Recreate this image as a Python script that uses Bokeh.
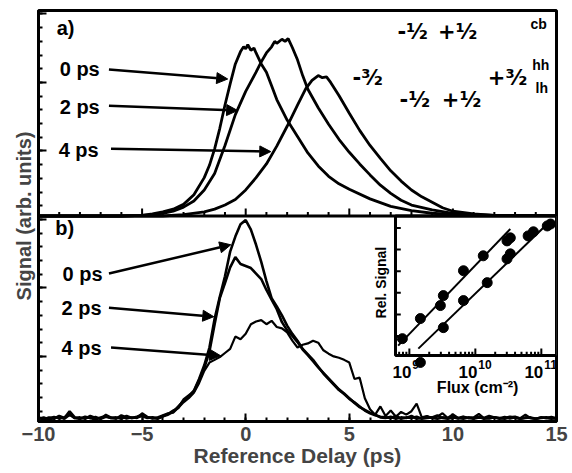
import math
from bokeh.plotting import figure
from bokeh.models import (ColumnDataSource, Range1d, LinearScale, FixedTicker,
                          SingleIntervalTicker, Span, Arrow, NormalHead,
                          CustomJSTickFormatter)
from bokeh.core.properties import value
from bokeh.embed import file_html
from bokeh.resources import INLINE

FONT = "Liberation Sans"

# ---------------- (a) cross-correlation traces (panel units 0..3) ----------------
a0_delay = [-10, -6, -5, -4.5, -4, -3.5, -3, -2.5, -2, -1.75,
            -1.5, -1.25, -1, -0.75, -0.5, -0.25, -0.1, 0, 0.1, 0.25,
            0.4, 0.5, 0.75, 1, 1.25, 1.5, 1.75, 2, 2.5, 3,
            3.5, 4, 4.5, 5, 6, 7, 8, 9, 10, 12, 15]
a0_sig = [0, 0, 0.01, 0.03, 0.06, 0.10, 0.17, 0.31, 0.56, 0.74,
          0.98, 1.28, 1.62, 1.93, 2.22, 2.40, 2.47, 2.44, 2.50, 2.42,
          2.45, 2.38, 2.22, 2.10, 1.90, 1.70, 1.55, 1.40, 1.16, 0.92,
          0.73, 0.58, 0.47, 0.39, 0.25, 0.14, 0.08, 0.04, 0.02, 0.01, 0]

a2_delay = [-10, -6, -5, -4.5, -4, -3.5, -3, -2.5, -2, -1.5,
            -1, -0.5, 0, 0.5, 0.75, 1, 1.25, 1.4, 1.5, 1.75,
            1.9, 2.05, 2.25, 2.5, 2.75, 3, 3.5, 4, 4.5, 5,
            5.5, 6, 6.5, 7, 7.5, 8, 9, 10, 11, 12, 15]
a2_sig = [0, 0, 0.01, 0.02, 0.04, 0.07, 0.13, 0.22, 0.38, 0.62,
          1.03, 1.48, 1.82, 2.10, 2.25, 2.38, 2.47, 2.55, 2.52, 2.58,
          2.55, 2.59, 2.46, 2.28, 2.05, 1.85, 1.58, 1.34, 1.12, 0.93,
          0.76, 0.60, 0.45, 0.33, 0.23, 0.16, 0.09, 0.04, 0.02, 0.01, 0]

a4_delay = [-10, -4, -3, -2, -1.5, -1, -0.5, 0, 0.5, 1,
            1.5, 2, 2.5, 2.9, 3.2, 3.5, 3.7, 3.9, 4.1, 4.5,
            5, 5.5, 6, 6.5, 7, 7.5, 8, 8.5, 9, 9.5,
            10, 11, 12, 15]
a4_sig = [0, 0, 0.02, 0.06, 0.10, 0.16, 0.24, 0.38, 0.56, 0.76,
          1.02, 1.31, 1.62, 1.86, 1.98, 2.05, 2.02, 2.03, 1.95, 1.76,
          1.50, 1.25, 1.03, 0.84, 0.66, 0.51, 0.38, 0.28, 0.20, 0.12,
          0.07, 0.03, 0.01, 0]

# ---------------- (b) traces, sampled every 0.25 ps from -10 to 15 ----------------
b0_sig = ([0.05, 0.03, 0.06, 0.04, 0.08, 0.05, 0.15, 0.06, 0.04, 0.07, 0.05,
           0.03, 0.06, 0.08, 0.05, 0.04, 0.09, 0.06, 0.05, 0.07, 0.10, 0.06]
          + [0.05, 0.04, 0.08, 0.10, 0.14, 0.22, 0.30, 0.36, 0.45, 0.62,
             0.82, 1.08, 1.50, 1.82, 2.12, 2.48, 2.70, 2.88, 2.94, 2.80,
             2.58, 2.33, 2.05, 1.80, 1.68, 1.55, 1.40, 1.28, 1.18, 1.06,
             0.98, 0.90, 0.80, 0.70, 0.62, 0.54, 0.46, 0.40, 0.33, 0.28,
             0.22, 0.16, 0.12, 0.09, 0.07]
          + [0.06, 0.05, 0.08, 0.04, 0.06, 0.05, 0.07, 0.04, 0.05, 0.06,
             0.09, 0.05, 0.04, 0.06, 0.05, 0.07, 0.05, 0.04, 0.06, 0.05,
             0.08, 0.06, 0.04, 0.05, 0.07, 0.05, 0.04, 0.06, 0.05, 0.04,
             0.06, 0.05, 0.04, 0.05])
b2_sig = ([0.04, 0.06, 0.03, 0.05, 0.07, 0.04, 0.10, 0.05, 0.06, 0.04, 0.08,
           0.05, 0.04, 0.07, 0.05, 0.06, 0.04, 0.08, 0.05, 0.06, 0.08, 0.05]
          + [0.06, 0.05, 0.07, 0.11, 0.16, 0.20, 0.32, 0.38, 0.44, 0.60,
             0.78, 1.02, 1.42, 1.80, 2.02, 2.25, 2.40, 2.30, 2.27, 2.24,
             2.16, 2.08, 1.92, 1.78, 1.64, 1.45, 1.33, 1.25, 1.16, 1.05,
             0.97, 0.88, 0.79, 0.71, 0.63, 0.55, 0.47, 0.41, 0.34, 0.27,
             0.21, 0.17, 0.13, 0.10, 0.06]
          + [0.05, 0.07, 0.04, 0.06, 0.05, 0.08, 0.04, 0.05, 0.07, 0.05,
             0.04, 0.06, 0.05, 0.10, 0.05, 0.04, 0.06, 0.05, 0.07, 0.04,
             0.05, 0.06, 0.05, 0.04, 0.06, 0.07, 0.04, 0.05, 0.06, 0.04,
             0.05, 0.06, 0.05, 0.04])
b4_sig = ([0.06, 0.04, 0.05, 0.07, 0.04, 0.06, 0.12, 0.05, 0.04, 0.06, 0.05,
           0.07, 0.04, 0.10, 0.06, 0.05, 0.07, 0.04, 0.06, 0.05, 0.12, 0.07]
          + [0.04, 0.06, 0.09, 0.12, 0.13, 0.20, 0.28, 0.34, 0.42, 0.56,
             0.74, 0.86, 0.90, 0.94, 1.00, 1.06, 1.24, 1.20, 1.28, 1.42,
             1.46, 1.48, 1.42, 1.47, 1.38, 1.36, 1.30, 1.18, 1.08, 1.12,
             1.14, 1.18, 1.15, 1.04, 0.99, 0.95, 0.93, 0.90, 0.86, 0.62,
             0.64, 0.34, 0.18, 0.10, 0.22]
          + [0.08, 0.16, 0.07, 0.14, 0.10, 0.15, 0.26, 0.06, 0.08, 0.05,
             0.07, 0.12, 0.05, 0.06, 0.04, 0.07, 0.05, 0.06, 0.11, 0.05,
             0.04, 0.06, 0.05, 0.07, 0.04, 0.06, 0.05, 0.10, 0.05, 0.04,
             0.06, 0.05, 0.07, 0.05])
b_delay = [-10 + 0.25 * i for i in range(len(b0_sig))]

# ---------------- inset: relative signal vs. log10(flux / cm^-2) ----------------
log_flux_1 = [8.894, 9.167, 9.47, 9.515, 9.82, 10.12, 10.48, 10.53]
rel_1 = [-0.12, 0.81, 1.41, 1.87, 3.02, 3.71, 4.40, 4.54]
fit_log_flux_1 = [8.83, 10.53]
fit_rel_1 = [-0.44, 4.95]
log_flux_2 = [9.167, 9.515, 9.82, 10.18, 10.48, 10.53, 10.80, 10.88, 11.09, 11.14]
rel_2 = [-1.22, 0.39, 1.64, 2.47, 3.57, 3.80, 4.63, 4.82, 5.09, 5.18]
fit_log_flux_2 = [9.136, 11.09]
fit_rel_2 = [-0.58, 5.18]
flux_decades = [9, 10, 11]
flux_exponents = ["9", "10", "11"]

# ---------------- labels and arrows ----------------
delay_labels = ["0 ps", "2 ps", "4 ps"]
a_label_x = [-8.01, -8.01, -8.06]
a_label_y = [2.14, 1.59, 0.97]
a_arrow_x0 = [-6.6, -6.6, -6.5]
a_arrow_y0 = [2.14, 1.61, 0.98]
a_arrow_x1 = [-0.87, -0.39, 1.21]
a_arrow_y1 = [2.00, 1.54, 0.94]
b_label_x = [-7.87, -7.92, -7.92]
b_label_y = [2.16, 1.66, 1.08]
b_arrow_x0 = [-6.6, -6.6, -6.5]
b_arrow_y0 = [2.16, 1.66, 1.08]
b_arrow_x1 = [-0.72, -1.54, -1.21]
b_arrow_y1 = [2.58, 1.53, 0.96]

# spin-level scheme (panel a coordinates)
level_text = ["-\u00b9\u2044\u2082", "+\u00b9\u2044\u2082", "-\u00b3\u2044\u2082",
              "-\u00b9\u2044\u2082", "+\u00b9\u2044\u2082", "+\u00b3\u2044\u2082"]
level_x = [8.06, 10.23, 5.89, 8.16, 10.42, 12.64]
level_y = [2.68, 2.68, 2.02, 1.70, 1.70, 2.02]
band_text = ["cb", "hh", "lh"]
band_x = [14.14, 14.24, 14.29]
band_y = [2.81, 2.20, 1.87]

# ---------------- figure ----------------
p = figure(width=572, height=473, x_range=Range1d(-10, 15), y_range=Range1d(0, 6),
           output_backend="svg", toolbar_location=None,
           min_border_left=38, min_border_right=16, min_border_top=10, min_border_bottom=52)
p.extra_y_ranges = {"a": Range1d(-3, 3)}
p.grid.visible = False
p.outline_line_color = "black"
p.outline_line_width = 3
p.background_fill_color = "white"
p.border_fill_color = "white"

xa = p.xaxis[0]
xa.ticker = SingleIntervalTicker(interval=5, num_minor_ticks=5)
xa.axis_label = "Reference Delay (ps)"
xa.axis_label_text_font = FONT
xa.axis_label_text_font_size = "21px"
xa.axis_label_text_font_style = "bold"
xa.axis_label_standoff = 0
xa.major_label_text_font = FONT
xa.major_label_text_font_size = "20px"
xa.major_label_text_font_style = "bold"
xa.major_label_standoff = 5
xa.major_tick_in, xa.major_tick_out = 8, 0
xa.minor_tick_in, xa.minor_tick_out = 4, 0
xa.major_tick_line_width = 2
xa.minor_tick_line_width = 2
xa.axis_line_width = 3

y_major = [0.95 + k for k in range(6)]
y_minor = [0.15 + 0.2 * k for k in range(30)]
ya = p.yaxis[0]
ya.ticker = FixedTicker(ticks=y_major, minor_ticks=y_minor)
ya.formatter = CustomJSTickFormatter(code="return ''")
ya.axis_label = "Signal (arb. units)"
ya.axis_label_text_font = FONT
ya.axis_label_text_font_size = "20px"
ya.axis_label_text_font_style = "bold"
ya.axis_label_standoff = 4
ya.major_label_standoff = 0
ya.major_tick_in, ya.major_tick_out = 8, 0
ya.minor_tick_in, ya.minor_tick_out = 4, 0
ya.major_tick_line_width = 2
ya.minor_tick_line_width = 2
ya.axis_line_width = 3

# divider between the two panels and the ticks along its lower edge
p.add_layout(Span(location=3.0, dimension="width", line_color="black", line_width=3))
tick_major = [-10, -5, 0, 5, 10, 15]
tick_minor = [t for t in range(-10, 16) if t % 5 != 0]
p.segment(x0=tick_major, y0=[3.0] * len(tick_major), x1=tick_major,
          y1=[3.11] * len(tick_major), line_color="black", line_width=2)
p.segment(x0=tick_minor, y0=[3.0] * len(tick_minor), x1=tick_minor,
          y1=[3.06] * len(tick_minor), line_color="black", line_width=2)

# panel (a) traces
for d, s in [(a0_delay, a0_sig), (a2_delay, a2_sig), (a4_delay, a4_sig)]:
    p.line(d, s, y_range_name="a", line_color="black", line_width=2.8)

# panel (b) traces
p.line(b_delay, b4_sig, line_color="black", line_width=2.2)
p.line(b_delay, b2_sig, line_color="black", line_width=2.6)
p.line(b_delay, b0_sig, line_color="black", line_width=2.6)

label_style = dict(text_font=value(FONT), text_font_size="20px", text_font_style="bold",
                   text_align="center", text_baseline="middle", text_color="black")
p.text(x=a_label_x, y=a_label_y, text=delay_labels, y_range_name="a", **label_style)
p.text(x=b_label_x, y=b_label_y, text=delay_labels, **label_style)
p.text(x=[-8.69], y=[2.74], text=["a)"], y_range_name="a", **label_style)
p.text(x=[-8.74], y=[2.82], text=["b)"], **label_style)

head = dict(size=11, fill_color="black", line_color="black", line_width=1)
p.add_layout(Arrow(end=NormalHead(**head), y_range_name="a", line_width=2.5,
                   source=ColumnDataSource(dict(x0=a_arrow_x0, y0=a_arrow_y0,
                                                x1=a_arrow_x1, y1=a_arrow_y1)),
                   x_start="x0", y_start="y0", x_end="x1", y_end="y1"))
p.add_layout(Arrow(end=NormalHead(**head), line_width=2.5,
                   source=ColumnDataSource(dict(x0=b_arrow_x0, y0=b_arrow_y0,
                                                x1=b_arrow_x1, y1=b_arrow_y1)),
                   x_start="x0", y_start="y0", x_end="x1", y_end="y1"))

# level scheme
p.text(x=level_x, y=level_y, text=level_text, y_range_name="a",
       text_font=value("DejaVu Sans"), text_font_size="21px", text_font_style="bold",
       text_align="center", text_baseline="middle", text_color="black")
p.text(x=band_x, y=band_y, text=band_text, y_range_name="a",
       text_font=value(FONT), text_font_size="14px", text_font_style="bold",
       text_align="center", text_baseline="middle", text_color="black")

# ---------------- inset ----------------
fx = Range1d(8.79, 11.23)     # log10 of flux
fy = Range1d(-0.9, 5.55)
inset = p.subplot(x_source=fx, y_source=fy, x_scale=LinearScale(), y_scale=LinearScale(),
                  x_target=Range1d(7.23, 15), y_target=Range1d(0.963, 3.0))
inset.quad(left=[fx.start], right=[fx.end], bottom=[fy.start], top=[fy.end],
           fill_color="white", line_color="black", line_width=3)

ix_major = [k for k in range(8, 13) if fx.start <= k <= fx.end]
ix_minor = [k + math.log10(m) for k in range(8, 12) for m in range(2, 10)
            if fx.start <= k + math.log10(m) <= fx.end]
inset.segment(x0=ix_major, y0=[fy.start] * len(ix_major), x1=ix_major,
              y1=[fy.start + 0.32] * len(ix_major), line_color="black", line_width=2)
inset.segment(x0=ix_minor, y0=[fy.start] * len(ix_minor), x1=ix_minor,
              y1=[fy.start + 0.18] * len(ix_minor), line_color="black", line_width=2)
iy_ticks = [0, 1, 2, 3, 4, 5]
inset.segment(x0=[fx.start] * 6, y0=iy_ticks, x1=[fx.start + 0.08] * 6, y1=iy_ticks,
              line_color="black", line_width=2)

inset.line(fit_log_flux_1, fit_rel_1, line_color="black", line_width=2)
inset.line(fit_log_flux_2, fit_rel_2, line_color="black", line_width=2)

inset.text(x=flux_decades, y=[-1.68] * 3, text=["10"] * 3, x_offset=2,
           text_font=value(FONT), text_font_size="17px", text_font_style="bold",
           text_align="right", text_baseline="middle", text_color="black")
inset.text(x=flux_decades, y=[-1.68] * 3, text=flux_exponents, x_offset=3, y_offset=-8,
           text_font=value(FONT), text_font_size="12px", text_font_style="bold",
           text_align="left", text_baseline="middle", text_color="black")
inset.text(x=[10.034], y=[-2.37], text=["Flux (cm\u207b\u00b2)"],
           text_font=value(FONT), text_font_size="16px", text_font_style="bold",
           text_align="center", text_baseline="middle", text_color="black")
inset.text(x=[8.565], y=[2.47], text=["Rel. Signal"], angle=math.pi / 2,
           text_font=value(FONT), text_font_size="14px", text_font_style="bold",
           text_align="center", text_baseline="middle", text_color="black")

inset.scatter(log_flux_1, rel_1, size=10, marker="circle", fill_color="black", line_color="black")
inset.scatter(log_flux_2, rel_2, size=10, marker="circle", fill_color="black", line_color="black")

open("out.html", "w").write(file_html(p, INLINE))
